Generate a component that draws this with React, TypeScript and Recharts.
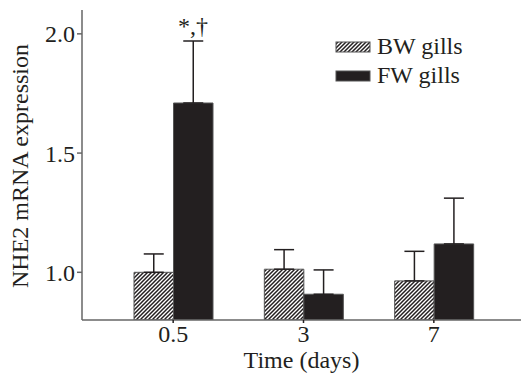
import React from 'react';
import { BarChart, Bar, XAxis, YAxis, ErrorBar, Legend, Label, ReferenceDot } from 'recharts';

const categories = ['0.5', '3', '7'];
const bwValues = [1.0, 1.013, 0.964];
const bwErrors = [0.077, 0.082, 0.124];
const fwValues = [1.71, 0.908, 1.119];
const fwErrors = [0.26, 0.102, 0.192];
const annotations = ['*,†', '', ''];
const yTicks = [1.0, 1.5, 2.0];

const data = categories.map((c, i) => ({
  time: c,
  bw: bwValues[i],
  bwErr: [0, bwErrors[i]],
  fw: fwValues[i],
  fwErr: [0, fwErrors[i]],
}));

const FONT = '"Liberation Serif", "Times New Roman", serif';
const DARK = '#231f20';
const BAR_SIZE = 39.5;
const FS = 24;

const LegendContent = () => (
  <div style={{ fontFamily: FONT, fontSize: FS, color: DARK, lineHeight: '29px' }}>
    {[
      { label: 'BW gills', hatch: true },
      { label: 'FW gills', hatch: false },
    ].map((it) => (
      <div key={it.label} style={{ display: 'flex', alignItems: 'center', height: 29 }}>
        <svg width={36} height={12} style={{ marginRight: 6 }}>
          <defs>
            <pattern id="lghatch" patternUnits="userSpaceOnUse" width="4" height="4">
              <rect width="4" height="4" fill="#fff" />
              <path d="M-1,1 l2,-2 M0,4 l4,-4 M3,5 l2,-2" stroke={DARK} strokeWidth={1.5} />
            </pattern>
          </defs>
          <rect x={1} y={1} width={34} height={10}
            fill={it.hatch ? 'url(#lghatch)' : DARK} stroke="#555" strokeWidth={1} />
        </svg>
        <span>{it.label}</span>
      </div>
    ))}
  </div>
);

export default function App() {
  return (
    <div style={{ position: 'absolute', left: 0, top: 0, background: '#fff' }}>
      <BarChart
        width={521}
        height={375}
        data={data}
        margin={{ top: 10, right: 0, bottom: 0, left: 0 }}
        barGap={0}
        barSize={BAR_SIZE}
      >
        <defs>
          <pattern id="hatch" patternUnits="userSpaceOnUse" width="4" height="4">
            <rect width="4" height="4" fill="#fff" />
            <path d="M-1,1 l2,-2 M0,4 l4,-4 M3,5 l2,-2" stroke={DARK} strokeWidth={1.5} />
          </pattern>
        </defs>
        <XAxis
          dataKey="time"
          height={55}
          padding={{ left: 26, right: 22 }}
          axisLine={{ stroke: '#666', strokeWidth: 1.5 }}
          tickLine={{ stroke: DARK, strokeWidth: 1.5 }}
          tickSize={3}
          tickMargin={2}
          tick={{ fontFamily: FONT, fontSize: FS, fill: DARK }}
        >
          <Label value="Time (days)" position="insideBottom" offset={7}
            style={{ fontFamily: FONT, fontSize: FS, fill: DARK }} />
        </XAxis>
        <YAxis
          width={82}
          domain={[0.8, 2.1]}
          ticks={yTicks}
          allowDataOverflow
          tickFormatter={(v: number) => v.toFixed(1)}
          axisLine={{ stroke: '#666', strokeWidth: 1.5 }}
          tickLine={{ stroke: '#666', strokeWidth: 1.5 }}
          tickSize={5}
          tickMargin={2}
          tick={{ fontFamily: FONT, fontSize: FS, fill: DARK }}
        >
          <Label
            value="NHE2 mRNA expression"
            content={() => (
              <text
                x={20}
                y={166}
                transform="rotate(-90 20 166)"
                textAnchor="middle"
                dominantBaseline="central"
                style={{ fontFamily: FONT, fontSize: FS, fill: DARK }}
              >
                NHE2 mRNA expression
              </text>
            )}
          />
        </YAxis>
        <Legend
          verticalAlign="middle"
          align="center"
          layout="horizontal"
          content={<LegendContent />}
          wrapperStyle={{ left: 335, top: 32, width: 180 }}
        />
        <Bar dataKey="bw" name="BW gills" fill="url(#hatch)" stroke="#555" strokeWidth={1} isAnimationActive={false}>
          <ErrorBar dataKey="bwErr" width={10} stroke={DARK} strokeWidth={1.5} isAnimationActive={false} />
        </Bar>
        <Bar dataKey="fw" name="FW gills" fill={DARK} stroke="#555" strokeWidth={1} isAnimationActive={false}>
          <ErrorBar dataKey="fwErr" width={10} stroke={DARK} strokeWidth={1.5} isAnimationActive={false} />
        </Bar>
        {annotations.map((a, i) =>
          a ? (
            <ReferenceDot
              key={i}
              x={categories[i]}
              y={fwValues[i] + fwErrors[i]}
              r={1}
              fill="none"
              stroke="none"
              label={{
                content: (p: any) => {
                  const vb = p.viewBox || {};
                  const cx = (vb.x ?? 0) + (vb.width ?? 0) / 2 + BAR_SIZE / 2;
                  const cy = (vb.y ?? 0) + (vb.height ?? 0) / 2;
                  return (
                    <text x={cx} y={cy - 7} textAnchor="middle"
                      style={{ fontFamily: FONT, fontSize: FS, fill: DARK }}>
                      {a}
                    </text>
                  );
                },
              }}
            />
          ) : null
        )}
      </BarChart>
    </div>
  );
}
